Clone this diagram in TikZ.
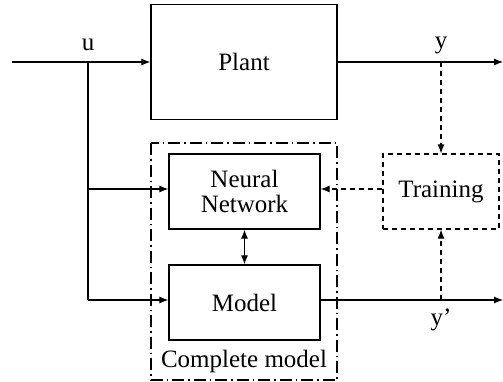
\documentclass[tikz,border=0pt]{standalone}
\usepackage{fontspec}
\setmainfont{Liberation Serif}
\usetikzlibrary{arrows.meta,positioning}
\begin{document}
\begin{tikzpicture}[x=1pt,y=-1pt,
  font=\fontsize{25}{28}\selectfont,
  blk/.style={draw,line width=1.2pt,inner sep=0pt,align=center},
  arr/.style={line width=1.1pt,-{Latex[length=9pt,width=7pt]}},
  dsh/.style={line width=1.1pt,dash pattern=on 5pt off 4pt},
  dshdot/.style={line width=1.1pt,dash pattern=on 12pt off 4pt on 1.5pt off 4pt}]
\useasboundingbox (0,0) rectangle (503,381);
% outer complete model box
\draw[dshdot] (151,143) rectangle (337,380);
\node[blk,minimum width=186pt,minimum height=115pt] (plant) at (244,62) {Plant};
\node[blk,minimum width=151pt,minimum height=75pt] (nn) at (244.5,191.5) {Neural\\[-3pt]Network};
\node[blk,minimum width=151pt,minimum height=75pt] (model) at (244.5,302.5) {Model};
\node[blk,dsh,minimum width=116pt,minimum height=75pt] (train) at (441,191.5) {Training};
\node (cm) at (244,361) {Complete model};
\coordinate (in) at (12,62);
\coordinate (ju) at (88,62);
\coordinate (jn) at (88,189);
\coordinate (jm) at (88,300);
\coordinate (out) at (503,62);
\coordinate (jy) at (441,62);
\coordinate (outm) at (503,300);
\coordinate (jym) at (441,300);
\node (u) at (88,45) {u};
\node (y) at (441,45) {y};
\node (yp) at (441,320) {y’};
\draw[line width=1.1pt] (in) -- (ju);
\draw[arr] (ju) -- (plant.west |- ju);
\draw[line width=1.1pt] (ju) -- (jm);
\draw[arr] (jn) -- (nn.west |- jn);
\draw[arr] (jm) -- (model.west |- jm);
\draw[arr] (plant.east |- jy) -- (out);
\draw[arr] (model.east |- jym) -- (outm);
\draw[arr,dsh] (jy) -- (train.north);
\draw[arr,dsh] (jym) -- (train.south);
\draw[arr,dsh] (train.west |- jn) -- (nn.east |- jn);
\draw[line width=1.1pt,{Latex[length=9pt,width=7pt]}-{Latex[length=9pt,width=7pt]}] (nn.south) -- (model.north);
\end{tikzpicture}
\end{document}
